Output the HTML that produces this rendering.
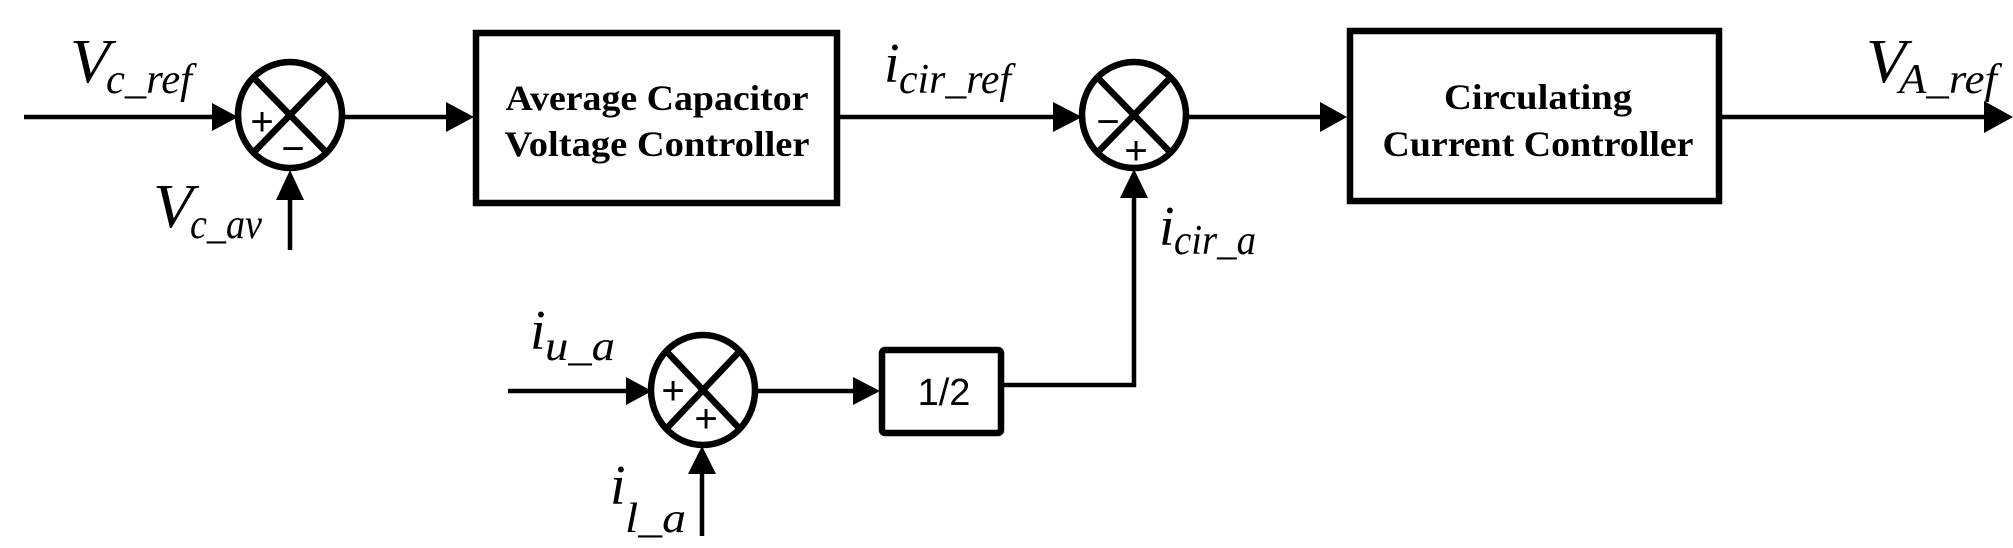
<!DOCTYPE html>
<html><head><meta charset="utf-8"><style>
html,body{margin:0;padding:0;background:#fff}
svg{display:block}
.l{font-family:"Liberation Serif",serif;font-style:italic}
.b{font-family:"Liberation Serif",serif;font-weight:bold;font-size:36px}
</style></head><body>
<svg width="2013" height="548" viewBox="0 0 2013 548" xmlns="http://www.w3.org/2000/svg">
<g stroke="#000" stroke-width="4.5" fill="none">
<line x1="24" y1="117" x2="216" y2="117"/>
<line x1="290" y1="250" x2="290" y2="195"/>
<line x1="343" y1="117" x2="450" y2="117"/>
<line x1="839" y1="117" x2="1058" y2="117"/>
<line x1="1186" y1="117" x2="1325" y2="117"/>
<line x1="1721" y1="117" x2="1988" y2="117"/>
<line x1="508" y1="391" x2="630" y2="391"/>
<line x1="702" y1="536" x2="702" y2="470"/>
<line x1="756" y1="391" x2="856" y2="391"/>
<polyline points="1003,385 1134,385 1134,195"/>
</g>
<g fill="#000">
<polygon points="238,117 212,103 212,131"/>
<polygon points="290,170 276,200 304,200"/>
<polygon points="474,117 446,102 446,132"/>
<polygon points="1082,117 1053,102 1053,132"/>
<polygon points="1134,169 1120,198 1148,198"/>
<polygon points="1347,117 1320,102 1320,132"/>
<polygon points="2013,117 1984,101 1984,133"/>
<polygon points="652,391 626,377 626,405"/>
<polygon points="702,446 688,474 716,474"/>
<polygon points="880,391 853,377 853,405"/>
</g>
<g stroke="#000" stroke-width="6.5" fill="none">
<ellipse cx="290" cy="115" rx="52" ry="53"/>
<line x1="254" y1="78" x2="326" y2="152"/>
<line x1="326" y1="78" x2="254" y2="152"/>
<ellipse cx="1134" cy="115" rx="52" ry="53"/>
<line x1="1098" y1="78" x2="1170" y2="152"/>
<line x1="1170" y1="78" x2="1098" y2="152"/>
<ellipse cx="703" cy="390" rx="52" ry="55"/>
<line x1="667" y1="352" x2="739" y2="428"/>
<line x1="739" y1="352" x2="667" y2="428"/>
<rect x="476" y="33" width="361" height="170"/>
<rect x="1350" y="31" width="369" height="170"/>
<rect x="882" y="350" width="119" height="83" rx="3"/>
</g>
<g font-family="'Liberation Sans',sans-serif" font-size="40" text-anchor="middle" fill="#000">
<text x="262" y="135">+</text>
<text x="293" y="162">−</text>
<text x="1108" y="135">−</text>
<text x="1136" y="164">+</text>
<text x="673" y="404">+</text>
<text x="706" y="432">+</text>
<text x="944" y="405" font-size="38">1/2</text>
</g>
<g class="b" text-anchor="middle">
<text x="657" y="110" textLength="303" lengthAdjust="spacingAndGlyphs">Average Capacitor</text>
<text x="657" y="156" textLength="305" lengthAdjust="spacingAndGlyphs">Voltage Controller</text>
<text x="1538" y="109" textLength="188" lengthAdjust="spacingAndGlyphs">Circulating</text>
<text x="1538" y="156" textLength="311" lengthAdjust="spacingAndGlyphs">Current Controller</text>
</g>
<g class="l" fill="#000">
<text x="70" y="82" font-size="62" textLength="40" lengthAdjust="spacingAndGlyphs">V</text>
<text x="106" y="93" font-size="42" textLength="86" lengthAdjust="spacingAndGlyphs">c_ref</text>
<text x="153" y="227" font-size="62" textLength="40" lengthAdjust="spacingAndGlyphs">V</text>
<text x="190" y="238" font-size="42" textLength="72" lengthAdjust="spacingAndGlyphs">c_av</text>
<text x="1866" y="82" font-size="62" textLength="40" lengthAdjust="spacingAndGlyphs">V</text>
<text x="1899" y="93" font-size="42" textLength="98" lengthAdjust="spacingAndGlyphs">A_ref</text>
<text x="884" y="82" font-size="56">i</text>
<text x="899" y="93" font-size="42" textLength="112" lengthAdjust="spacingAndGlyphs">cir_ref</text>
<text x="1159" y="245" font-size="56">i</text>
<text x="1174" y="254" font-size="42" textLength="82" lengthAdjust="spacingAndGlyphs">cir_a</text>
<text x="530" y="349" font-size="56">i</text>
<text x="545" y="360" font-size="42" textLength="70" lengthAdjust="spacingAndGlyphs">u_a</text>
<text x="610" y="504" font-size="56">i</text>
<text x="625" y="532" font-size="42" textLength="61" lengthAdjust="spacingAndGlyphs">l_a</text>
</g>
</svg>
</body></html>
